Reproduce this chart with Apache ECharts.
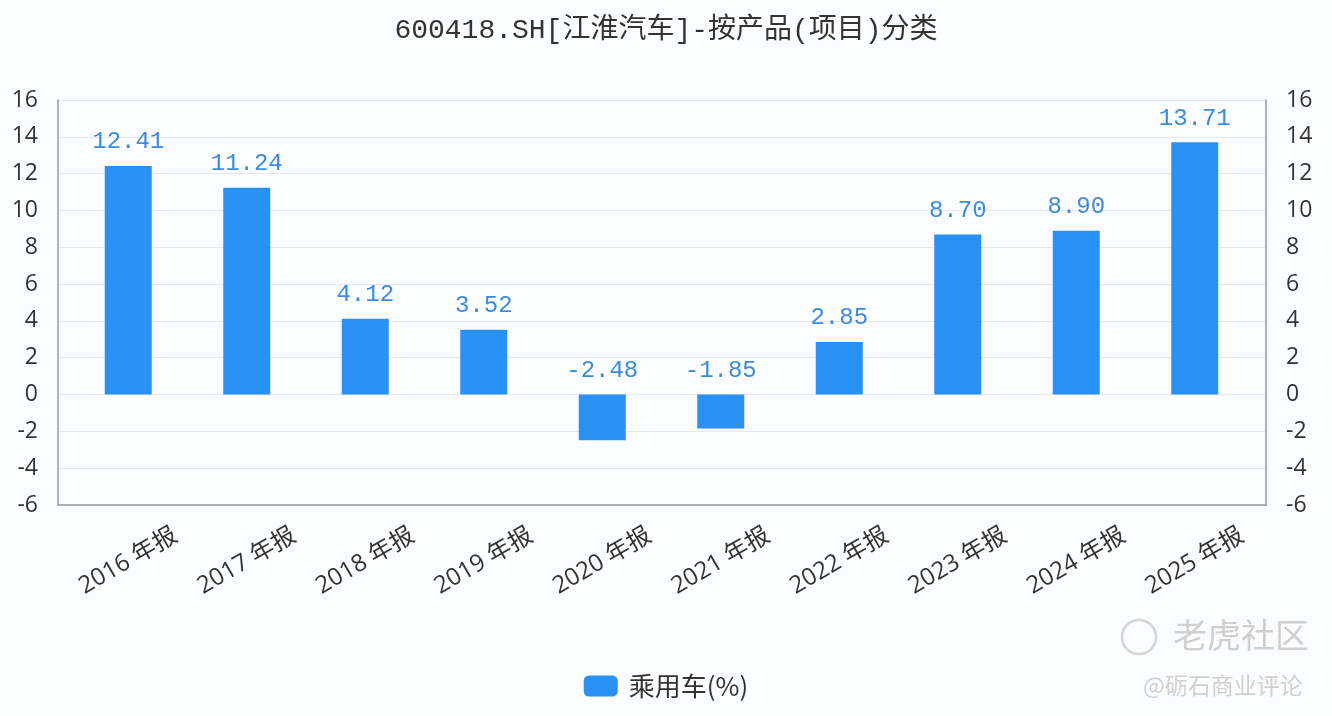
<!doctype html>
<html>
<head>
<meta charset="utf-8">
<script src="https://cdn.jsdelivr.net/npm/echarts@6/dist/echarts.min.js"></script>
<style>
  html, body { margin: 0; padding: 0; background: #fbfcfe; }
  #main { width: 1332px; height: 716px; }
</style>
</head>
<body>
<div id="main"></div>
<script>
// 数据
var titleText = '600418.SH[江淮汽车]-按产品(项目)分类';
var seriesName = '乘用车(%)';
var categories = ['2016 年报', '2017 年报', '2018 年报', '2019 年报', '2020 年报',
                  '2021 年报', '2022 年报', '2023 年报', '2024 年报', '2025 年报'];
var values = [12.41, 11.24, 4.12, 3.52, -2.48, -1.85, 2.85, 8.70, 8.90, 13.71];
var yMin = -6, yMax = 16, yStep = 2;

var myChart = echarts.init(document.getElementById('main'));

var axisLabelStyle = {
  color: '#333',
  fontSize: 23,
  fontFamily: 'Open Sans, Noto Sans CJK SC, sans-serif'
};

var option = {
  backgroundColor: '#fbfcfe',
  animation: false,
  title: {
    text: titleText,
    left: 'center',
    top: 12,
    textStyle: {
      color: '#333',
      fontSize: 28,
      fontWeight: 'normal',
      fontFamily: 'Liberation Mono, Noto Sans CJK SC, monospace'
    }
  },
  legend: {
    bottom: 12,
    left: 'center',
    itemWidth: 34,
    itemHeight: 21,
    data: [seriesName],
    itemStyle: { borderRadius: 4 },
    textStyle: {
      color: '#333',
      fontSize: 26,
      padding: [0, 0, 0, 6],
      fontFamily: 'Noto Sans CJK SC, sans-serif'
    }
  },
  // grid 0：坐标轴框架 / grid 1：柱子
  grid: [
    { left: 58, right: 66, top: 100, bottom: 211 },
    { left: 69, right: 78, top: 100, bottom: 211 }
  ],
  xAxis: [
    {
      gridIndex: 0,
      type: 'value',
      min: 0,
      max: 1,
      axisLine: { show: true, onZero: false, lineStyle: { color: '#9a9a9a', width: 1.5 } },
      axisTick: { show: false },
      axisLabel: { show: false },
      splitLine: { show: false }
    },
    {
      gridIndex: 1,
      type: 'category',
      data: categories,
      axisLine: { show: false },
      axisTick: { show: false },
      axisLabel: {
        rotate: 30,
        align: 'center',
        verticalAlign: 'middle',
        margin: 56,
        color: '#333',
        fontSize: 24,
        fontFamily: 'Open Sans, Noto Sans CJK SC, sans-serif'
      }
    }
  ],
  yAxis: [
    {
      gridIndex: 0,
      type: 'value',
      position: 'left',
      min: yMin, max: yMax, interval: yStep,
      axisLine: { show: true, lineStyle: { color: '#9a9a9a', width: 1.5 } },
      axisTick: { show: false },
      axisLabel: Object.assign({ margin: 20 }, axisLabelStyle),
      splitLine: { show: true, lineStyle: { color: '#e6e8ec' } }
    },
    {
      gridIndex: 0,
      type: 'value',
      position: 'right',
      min: yMin, max: yMax, interval: yStep,
      axisLine: { show: true, lineStyle: { color: '#9a9a9a', width: 1.5 } },
      axisTick: { show: false },
      axisLabel: Object.assign({ margin: 20 }, axisLabelStyle),
      splitLine: { show: false }
    },
    {
      gridIndex: 1,
      type: 'value',
      min: yMin, max: yMax, interval: yStep,
      show: false
    }
  ],
  series: [
    {
      name: seriesName,
      type: 'bar',
      xAxisIndex: 1,
      yAxisIndex: 2,
      data: values,
      barWidth: 47,
      itemStyle: { color: '#2990f4' },
      label: {
        show: true,
        position: 'top',
        distance: 12,
        color: '#3d8bdc',
        fontSize: 24,
        fontFamily: 'Liberation Mono, DejaVu Sans Mono, monospace',
        formatter: function (p) { return p.value.toFixed(2); }
      }
    }
  ],
  // 水印
  graphic: [
    {
      type: 'circle',
      shape: { cx: 1139, cy: 637, r: 17 },
      style: { fill: 'none', stroke: '#d4d4d4', lineWidth: 2.5 }
    },
    {
      type: 'text',
      left: 1173,
      top: 618,
      style: {
        text: '老虎社区',
        fill: '#cfcfcf',
        font: '34px "Noto Sans CJK SC"'
      }
    },
    {
      type: 'text',
      left: 1143,
      top: 674,
      style: {
        text: '@砺石商业评论',
        fill: '#d0d0d0',
        font: '23px "Noto Sans CJK SC"'
      }
    }
  ]
};

myChart.setOption(option);
</script>
</body>
</html>
